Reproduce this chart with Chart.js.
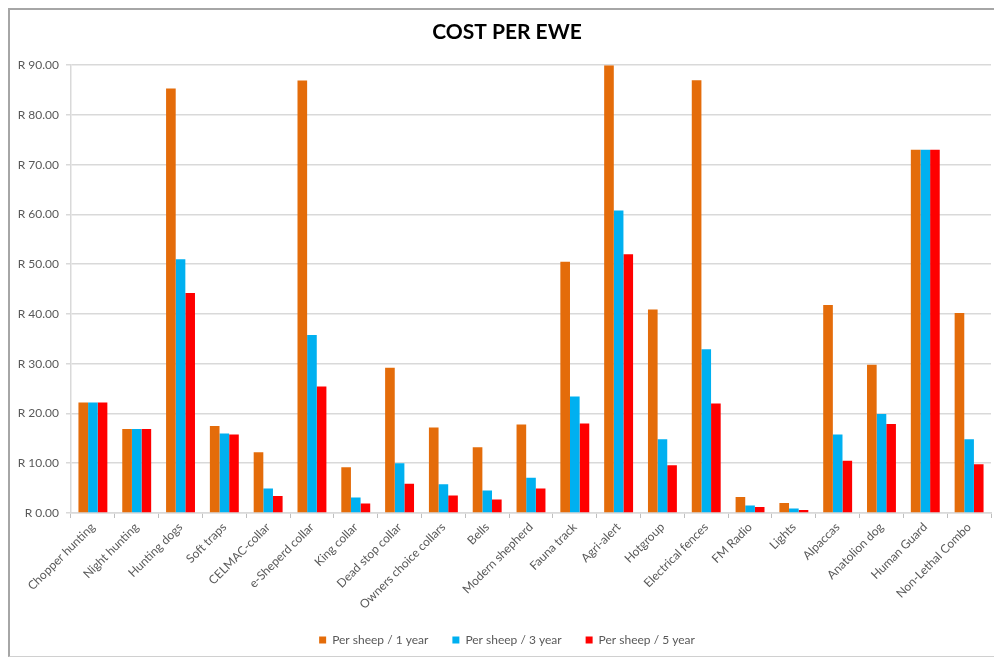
<!DOCTYPE html>
<html>
<head>
<meta charset="utf-8">
<script src="https://cdn.jsdelivr.net/npm/chart.js@4"></script>
<style>
  html, body { margin: 0; padding: 0; background: #ffffff; }
  #wrap { position: relative; width: 994px; height: 660px; overflow: hidden; }
  #frame {
    position: absolute; left: 8px; top: 8px; width: 1000px; height: 649px;
    border-left: 2px solid #a6a6a6; border-top: 2px solid #a6a6a6; border-bottom: 1px solid #d0d0d0;
    pointer-events: none; box-sizing: border-box;
  }
  canvas { display: block; }
</style>
</head>
<body>
<div id="wrap">
  <canvas id="chart" width="1014" height="660"></canvas>
  <div id="frame"></div>
</div>
<script>
// Protection methods compared by cost per ewe (Rand)
const categories = [
  "Chopper hunting", "Night hunting", "Hunting dogs", "Soft traps", "CELMAC-collar",
  "e-Sheperd collar", "King collar", "Dead stop collar", "Owners choice collars", "Bells",
  "Modern shepherd", "Fauna track", "Agri-alert", "Hotgroup", "Electrical fences",
  "FM Radio", "Lights", "Alpaccas", "Anatolion dog", "Human Guard", "Non-Lethal Combo"
];

const perSheep1Year = [22.2, 16.9, 85.3, 17.5, 12.2, 86.9, 9.2, 29.2, 17.2, 13.2,
                       17.8, 50.5, 90.0, 40.9, 87.0, 3.2, 2.0, 41.8, 29.8, 73.0, 40.2];
const perSheep3Year = [22.2, 16.9, 51.0, 16.0, 4.9, 35.8, 3.1, 10.0, 5.8, 4.5,
                       7.1, 23.4, 60.8, 14.8, 32.9, 1.5, 0.9, 15.8, 19.9, 73.0, 14.8];
const perSheep5Year = [22.2, 16.9, 44.2, 15.8, 3.4, 25.4, 1.9, 5.9, 3.5, 2.7,
                       4.9, 18.0, 52.0, 9.6, 22.0, 1.2, 0.6, 10.5, 17.9, 73.0, 9.8];

const seriesNames = ["Per sheep / 1 year", "Per sheep / 3 year", "Per sheep / 5 year"];
const yTicks = [0, 10, 20, 30, 40, 50, 60, 70, 80, 90];

const FONT = "Lato, 'Open Sans', sans-serif";
const TEXT = "#595959";
const GRID = "#d9d9d9";

new Chart(document.getElementById("chart"), {
  type: "bar",
  data: {
    labels: categories,
    datasets: [
      { label: seriesNames[0], data: perSheep1Year, backgroundColor: "#E46C0A" },
      { label: seriesNames[1], data: perSheep3Year, backgroundColor: "#00B0F0" },
      { label: seriesNames[2], data: perSheep5Year, backgroundColor: "#FF0000" }
    ]
  },
  options: {
    responsive: false,
    animation: false,
    datasets: { bar: { categoryPercentage: 0.66, barPercentage: 1.0, borderWidth: 0 } },
    layout: { padding: { left: 0, right: 0, top: 0, bottom: 4 } },
    plugins: {
      title: {
        display: true,
        text: "COST PER EWE",
        color: "#000000",
        font: { family: FONT, size: 21, weight: "bold", lineHeight: 1.2 },
        padding: { top: 20, bottom: 20 }
      },
      legend: {
        position: "bottom",
        labels: {
          color: TEXT,
          font: { family: FONT, size: 12 },
          boxWidth: 7, boxHeight: 7,
          padding: 24
        }
      },
      tooltip: { enabled: false }
    },
    scales: {
      x: {
        grid: { drawOnChartArea: false, drawTicks: true, tickLength: 5, color: "#bfbfbf", offset: true },
        border: { display: true, color: GRID, width: 1.5 },
        ticks: {
          color: TEXT, font: { family: FONT, size: 12 },
          minRotation: 45, maxRotation: 45, autoSkip: false, padding: 2
        },
        afterFit: (scale) => {
          const lg = scale.chart.legend;
          const lh = lg ? lg.height : 0;
          scale.height = 660 - 4 - lh - 513;
        }
      },
      y: {
        min: 0, max: 90,
        afterBuildTicks: (scale) => { scale.ticks = yTicks.map(v => ({ value: v })); },
        grid: { color: GRID, lineWidth: 1.5, tickLength: 5, drawTicks: true },
        border: { display: true, color: GRID, width: 1.5 },
        ticks: {
          color: TEXT, font: { family: FONT, size: 12 }, padding: 7,
          callback: (v) => "R " + Number(v).toFixed(2)
        },
        afterFit: (scale) => { scale.width = 71; }
      },
      // empty right-hand spacer so the plot ends before the right margin
      yRight: {
        position: "right",
        min: 0, max: 90,
        grid: { display: false, drawTicks: false },
        border: { display: false },
        ticks: { display: false },
        afterFit: (scale) => { scale.width = 23; }
      }
    }
  }
});
</script>
</body>
</html>
